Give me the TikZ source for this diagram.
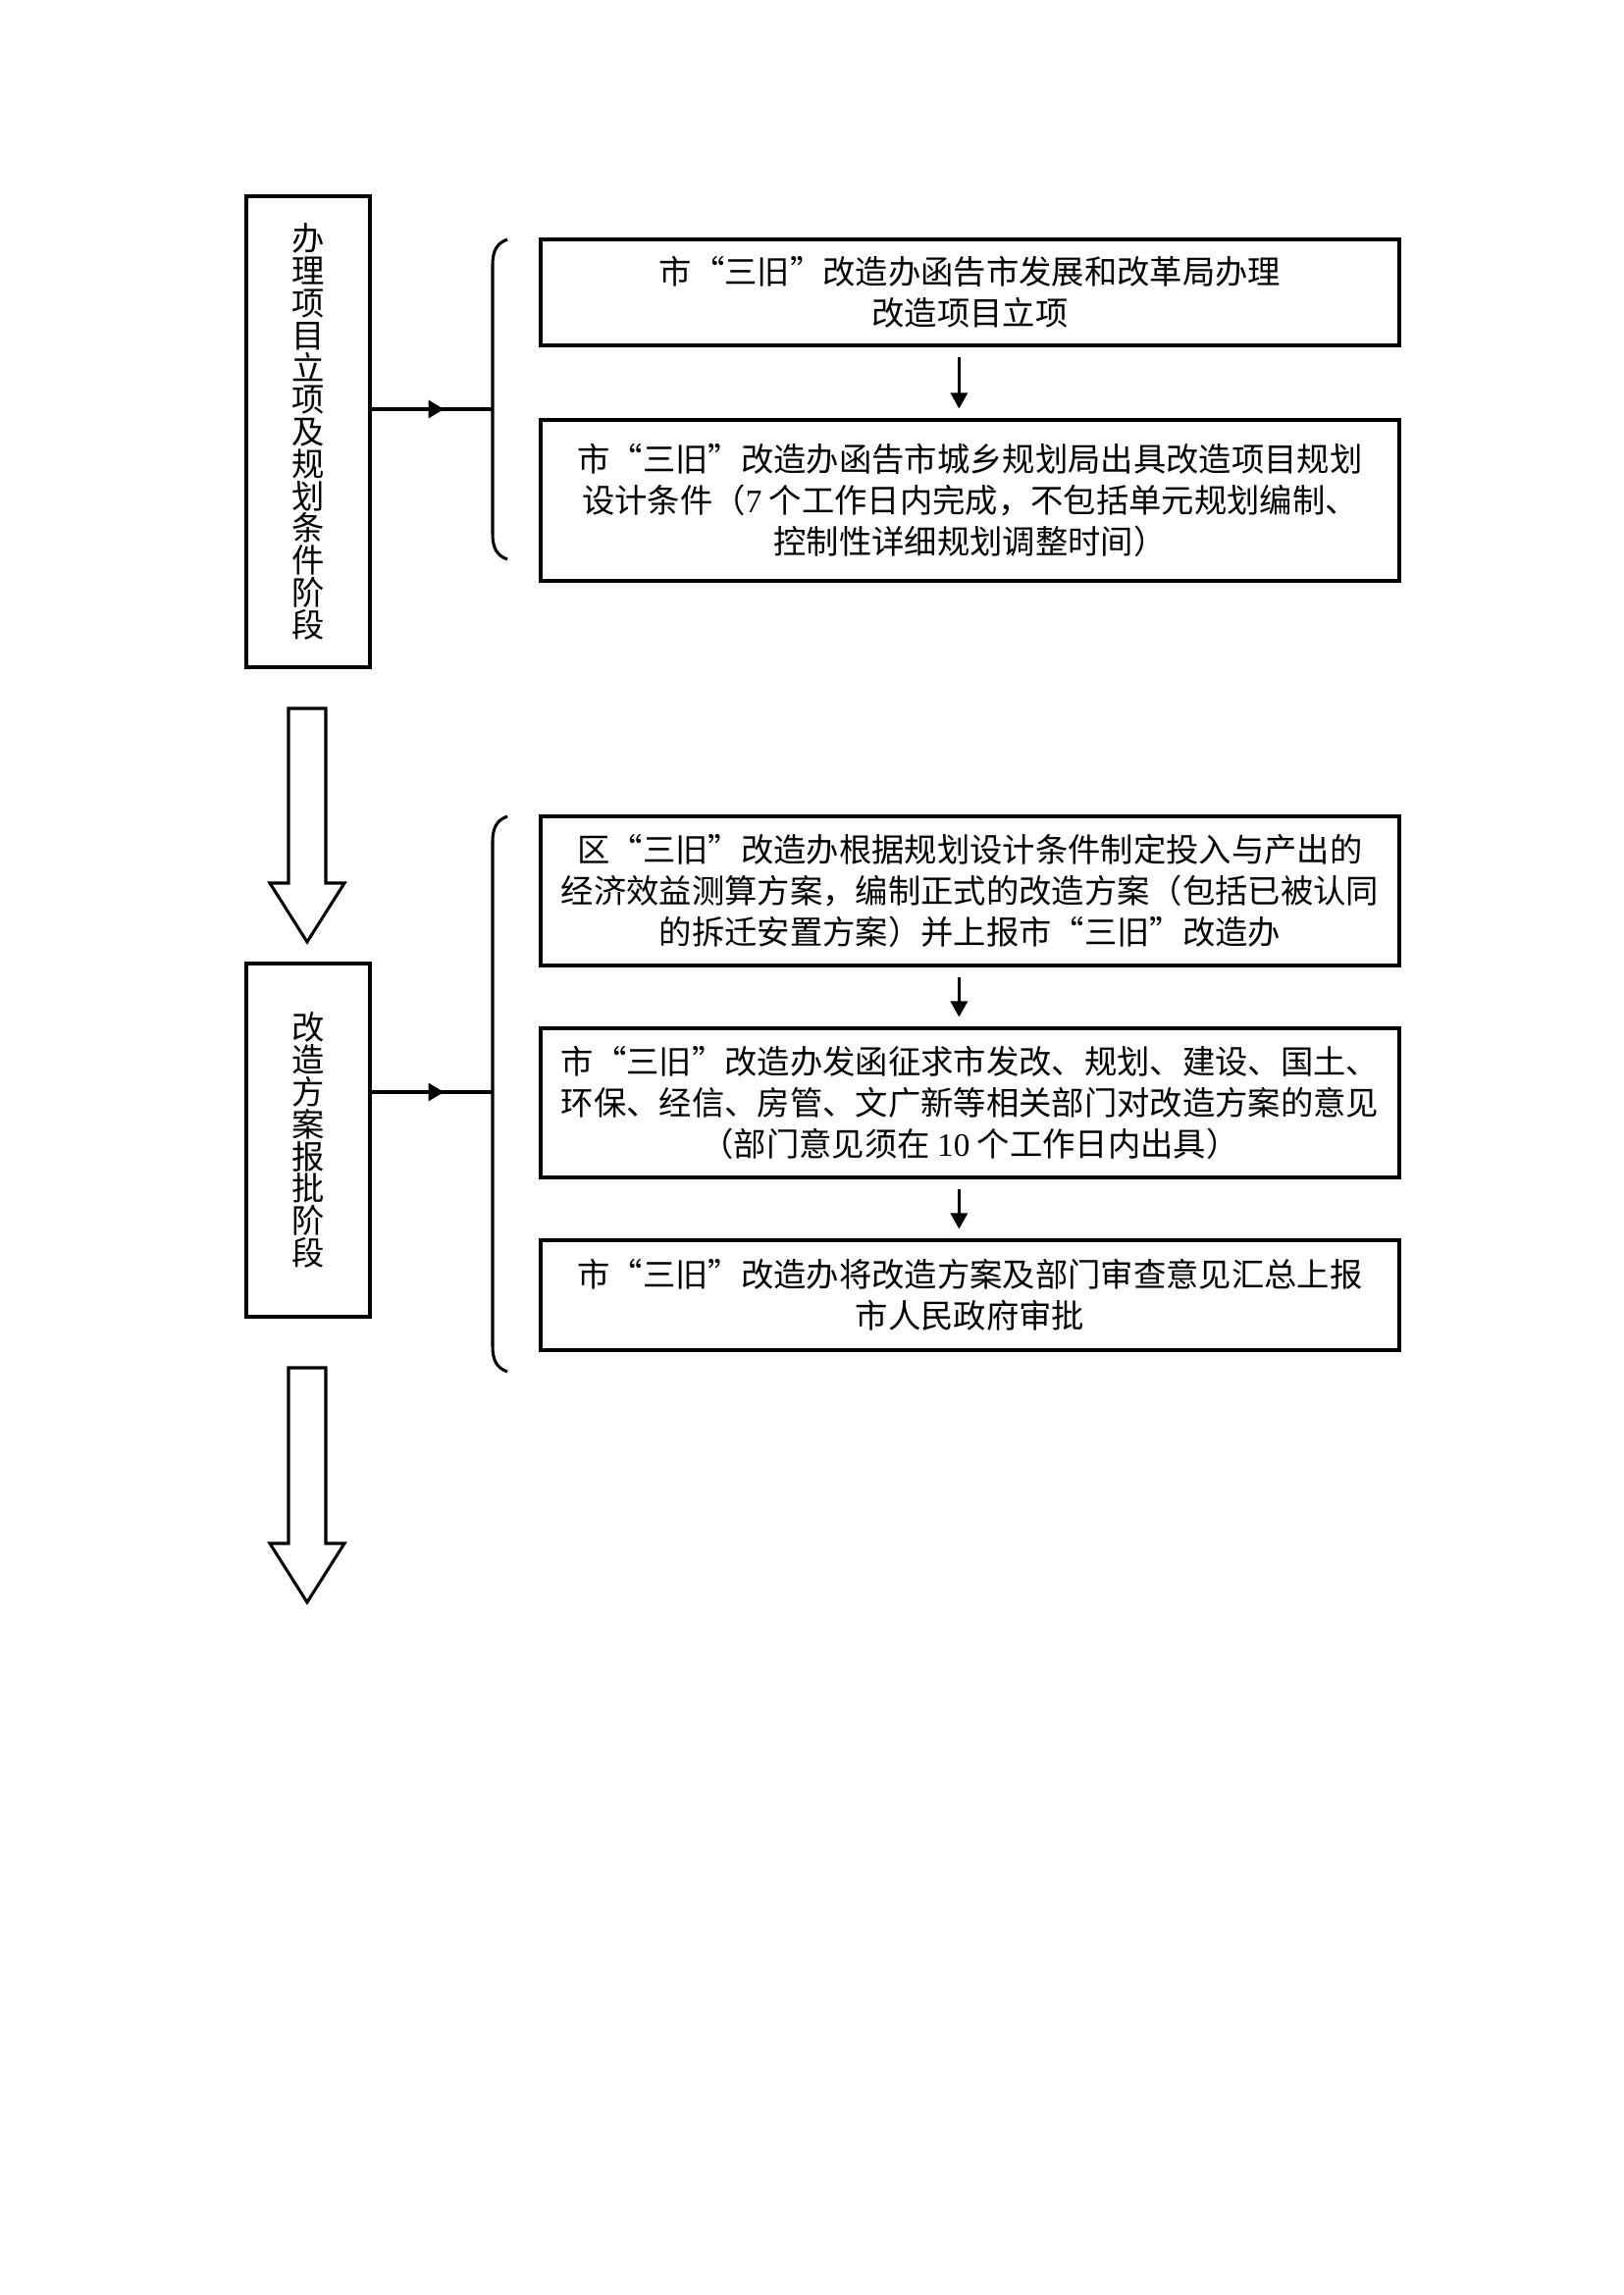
\documentclass[tikz,border=0pt]{standalone}
\usepackage{fontspec}
\setmainfont{Noto Sans CJK SC}
\newfontfamily\tnr{Liberation Serif}
\usetikzlibrary{arrows.meta,decorations.markings}
\begin{document}
\begin{tikzpicture}[x=0.36pt,y=-0.36pt,
  box/.style={draw, line width=1.1pt, inner sep=0pt, align=center,
    minimum width=315pt, font=\fontsize{12pt}{15pt}\selectfont},
  vbox/.style={draw, line width=1.1pt, inner sep=0pt, align=center,
    minimum width=45.36pt, font=\fontsize{12pt}{11.8pt}\selectfont},
  link/.style={line width=1.1pt},
  tiparrow/.style={line width=1pt, -{Triangle[length=5.8pt,width=6.2pt]}},
  midarrow/.style={decoration={markings, mark=at position #1 with
    {\arrow{Triangle[length=5.8pt,width=6.5pt]}}}, postaction={decorate}},
  bigarrow/.style={line width=1.1pt, fill=white}]
\useasboundingbox (0,0) rectangle (1654,2339);

% stage 1
\node[vbox, minimum height=172.8pt] (A) at (314,440)
  {办\\理\\项\\目\\立\\项\\及\\规\\划\\条\\件\\阶\\段};
\node[box, minimum height=38.88pt] (B1) at (988.5,298)
  {市“三旧”改造办函告市发展和改革局办理\\改造项目立项};
\node[box, minimum height=59.04pt] (B2) at (988.5,510)
  {市“三旧”改造办函告市城乡规划局出具改造项目规划\\设计条件（{\tnr 7} 个工作日内完成，不包括单元规划编制、\\控制性详细规划调整时间）};
\draw[tiparrow] ([xshift=-4pt,yshift=-3.6pt]B1.south) -- ([xshift=-4pt,yshift=3.6pt]B2.north);

\draw[link] (517,244) .. controls (506,248) and (502,256) .. (502,270)
  -- (502,544) .. controls (502,558) and (506,566) .. (517,570);
\coordinate (j1) at (502,417);
\draw[link, midarrow=0.6] (A.east |- j1) -- (j1);

% big arrow 1
\draw[bigarrow] (294,722) -- (332,722) -- (332,900) -- (351,900) -- (313,960)
  -- (275,900) -- (294,900) -- cycle;

% stage 2
\node[vbox, minimum height=129.6pt] (C) at (314,1162)
  {改\\造\\方\\案\\报\\批\\阶\\段};
\node[box, minimum height=54.72pt] (D1) at (988.5,908)
  {区“三旧”改造办根据规划设计条件制定投入与产出的\\经济效益测算方案，编制正式的改造方案（包括已被认同\\的拆迁安置方案）并上报市“三旧”改造办};
\node[box, minimum height=54.72pt] (D2) at (988.5,1124)
  {市“三旧”改造办发函征求市发改、规划、建设、国土、\\环保、经信、房管、文广新等相关部门对改造方案的意见\\（部门意见须在 {\tnr 10} 个工作日内出具）};
\node[box, minimum height=40.32pt] (D3) at (988.5,1320)
  {市“三旧”改造办将改造方案及部门审查意见汇总上报\\市人民政府审批};
\draw[tiparrow] ([xshift=-4pt,yshift=-3.6pt]D1.south) -- ([xshift=-4pt,yshift=3.6pt]D2.north);
\draw[tiparrow] ([xshift=-4pt,yshift=-3.6pt]D2.south) -- ([xshift=-4pt,yshift=3.6pt]D3.north);

\draw[link] (517,832) .. controls (506,836) and (502,844) .. (502,858)
  -- (502,1372) .. controls (502,1386) and (506,1394) .. (517,1398);
\coordinate (j2) at (502,1113);
\draw[link, midarrow=0.6] (C.east |- j2) -- (j2);

% big arrow 2
\draw[bigarrow] (294,1394) -- (332,1394) -- (332,1573) -- (351,1573) -- (313,1633)
  -- (275,1573) -- (294,1573) -- cycle;
\end{tikzpicture}
\end{document}
